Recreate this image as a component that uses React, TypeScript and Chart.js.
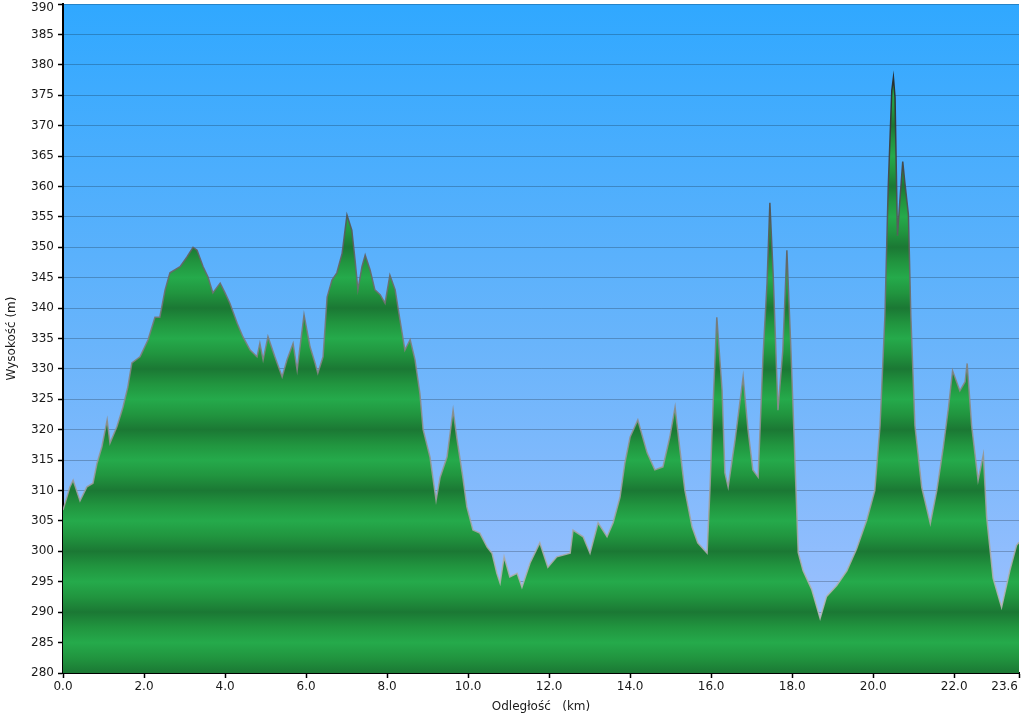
import React, { useEffect, useRef } from 'react';
import { Chart, registerables } from 'chart.js';

Chart.register(...registerables);

// Distance along the route (km)
const distanceKm = [
  0.0, 0.1, 0.17, 0.25, 0.42, 0.59, 0.74, 0.84, 0.96, 1.09, 1.16, 1.33, 1.48, 1.6, 1.7, 1.9,
  2.1, 2.27, 2.39, 2.52, 2.64, 2.89, 3.06, 3.21, 3.31, 3.46, 3.58, 3.7, 3.88, 4.0, 4.12, 4.3,
  4.44, 4.62, 4.79, 4.86, 4.94, 5.06, 5.23, 5.41, 5.53, 5.68, 5.78, 5.95, 6.1, 6.22, 6.29, 6.42,
  6.52, 6.64, 6.76, 6.89, 7.01, 7.13, 7.21, 7.28, 7.38, 7.46, 7.58, 7.7, 7.83, 7.95, 8.07, 8.2,
  8.32, 8.44, 8.57, 8.69, 8.81, 8.89, 9.06, 9.21, 9.31, 9.48, 9.63, 9.73, 9.87, 9.97, 10.12, 10.29,
  10.47, 10.59, 10.71, 10.79, 10.89, 11.03, 11.21, 11.33, 11.53, 11.77, 11.97, 12.19, 12.52, 12.59, 12.84, 13.01,
  13.21, 13.43, 13.58, 13.75, 13.87, 14.0, 14.19, 14.42, 14.61, 14.81, 14.98, 15.11, 15.23, 15.35, 15.53, 15.67,
  15.9, 15.97, 16.05, 16.14, 16.27, 16.34, 16.42, 16.59, 16.79, 16.91, 17.03, 17.16, 17.28, 17.38, 17.45, 17.53,
  17.65, 17.77, 17.87, 17.97, 18.07, 18.15, 18.27, 18.48, 18.69, 18.85, 19.1, 19.35, 19.59, 19.84, 20.04, 20.17,
  20.29, 20.37, 20.46, 20.5, 20.54, 20.6, 20.66, 20.73, 20.78, 20.87, 20.93, 21.03, 21.2, 21.41, 21.57, 21.73,
  21.86, 21.96, 22.14, 22.27, 22.32, 22.43, 22.59, 22.72, 22.8, 22.96, 23.17, 23.38, 23.54, 23.6,
];

// Elevation (m)
const elevationM = [
  306.8, 309.0, 310.6, 311.7, 308.3, 310.6, 311.2, 314.5, 317.2, 321.6, 317.8, 320.5, 323.7, 327.0, 331.0, 332.0,
  334.8, 338.5, 338.5, 343.0, 345.8, 346.8, 348.4, 350.0, 349.5, 346.8, 345.1, 342.5, 344.1, 342.5, 340.8, 337.5,
  335.3, 333.1, 332.0, 334.2, 331.5, 335.3, 332.0, 328.7, 331.5, 334.2, 329.8, 338.9, 333.6, 331.0, 329.3, 332.0,
  341.8, 344.6, 345.8, 349.0, 355.3, 352.8, 347.9, 343.0, 346.8, 348.7, 346.3, 343.0, 342.2, 340.8, 345.4, 343.0,
  338.0, 333.1, 334.8, 331.5, 326.0, 320.0, 315.5, 308.4, 312.2, 315.5, 323.2, 318.3, 312.2, 307.3, 303.5, 303.0,
  300.7, 299.7, 296.4, 294.8, 299.1, 295.8, 296.4, 294.1, 298.1, 301.4, 297.4, 299.1, 299.7, 303.5, 302.4, 299.7,
  304.7, 302.4, 304.7, 308.9, 314.5, 318.8, 321.6, 316.2, 313.4, 313.9, 318.8, 323.7, 316.7, 310.1, 304.0, 301.4,
  299.7, 310.1, 324.4, 338.5, 326.5, 312.9, 310.6, 318.3, 328.7, 320.0, 313.4, 312.2, 332.0, 344.1, 357.3, 345.8,
  323.2, 333.1, 349.5, 333.1, 314.7, 299.8, 296.8, 293.8, 289.0, 292.6, 294.4, 296.8, 300.4, 305.1, 310.0, 320.7,
  338.7, 359.6, 375.8, 377.9, 374.6, 351.9, 357.8, 364.1, 360.8, 355.4, 338.7, 320.7, 310.5, 304.6, 310.0, 317.1,
  323.7, 329.7, 326.4, 327.9, 330.9, 320.7, 311.7, 315.9, 305.7, 295.6, 290.8, 297.0, 301.0, 301.5,
];

const xTickValues = [0, 2, 4, 6, 8, 10, 12, 14, 16, 18, 20, 22, 23.6];
const yMin = 280;
const yMax = 390;
const yStep = 5;
const xTitle = 'Odległość   (km)';
const yTitle = 'Wysokość (m)';

const FONT = "'DejaVu Sans', Verdana, sans-serif";
const TEXT_COLOR = '#1a1a1a';

function greenFill(ctx: any) {
  const chart = ctx.chart;
  const area = chart.chartArea;
  if (!area) return '#20a044';
  const g = chart.ctx.createLinearGradient(0, area.bottom, 0, area.top);
  const span = yMax - yMin;
  for (let v = yMin; v <= yMax; v += 2.5) {
    const t = (v - yMin) / span;
    const m = ((v % 10) + 10) % 10;
    let c;
    if (m === 0) c = '#1b7834';
    else if (m === 5) c = '#25aa4b';
    else c = '#21953f';
    g.addColorStop(Math.min(1, t), c);
  }
  return g;
}

function outline(ctx: any) {
  const chart = ctx.chart;
  const area = chart.chartArea;
  if (!area) return '#777';
  const g = chart.ctx.createLinearGradient(0, area.bottom, 0, area.top);
  g.addColorStop(0, 'rgba(195,195,195,0.9)');
  g.addColorStop(0.5, 'rgba(125,125,125,0.9)');
  g.addColorStop(1, 'rgba(15,15,15,0.95)');
  return g;
}

const skyPlugin = {
  id: 'skyBackground',
  beforeDraw(chart: any) {
    const { ctx, chartArea: a } = chart;
    if (!a) return;
    const g = ctx.createLinearGradient(0, a.top, 0, a.bottom);
    g.addColorStop(0, '#30a8ff');
    g.addColorStop(0.5, '#68b4fb');
    g.addColorStop(1, '#a6c2fe');
    ctx.save();
    ctx.fillStyle = g;
    ctx.fillRect(a.left, a.top, a.right - a.left, a.bottom - a.top);
    ctx.restore();
  },
};

const tickLabelPlugin = {
  id: 'tickLabels',
  afterDraw(chart: any) {
    const { ctx } = chart;
    const xs = chart.scales.x;
    const ys = chart.scales.y;
    ctx.save();
    ctx.font = `12px ${FONT}`;
    ctx.fillStyle = TEXT_COLOR;
    ctx.textBaseline = 'top';
    xTickValues.forEach((v, i) => {
      const px = xs.getPixelForValue(v);
      const last = i === xTickValues.length - 1;
      ctx.textAlign = last ? 'right' : 'center';
      ctx.fillText(v.toFixed(1), last ? px - 1 : px, xs.top + 8);
    });
    ctx.textBaseline = 'middle';
    ctx.textAlign = 'right';
    for (let v = yMin; v <= yMax; v += yStep) {
      const py = Math.max(ys.getPixelForValue(v), 8);
      ctx.fillText(String(v), ys.right - 9, py);
    }
    ctx.restore();
  },
};

export default function App() {
  const ref = useRef<HTMLCanvasElement | null>(null);

  useEffect(() => {
    if (!ref.current) return;
    const points = distanceKm.map((d, i) => ({ x: d, y: elevationM[i] }));
    const chart = new Chart(ref.current, {
      type: 'line',
      data: {
        datasets: [
          {
            label: yTitle,
            data: points,
            fill: 'start',
            backgroundColor: greenFill,
            borderColor: outline,
            borderWidth: 1.5,
            pointRadius: 0,
            tension: 0,
          },
        ],
      },
      options: {
        responsive: false,
        animation: false,
        layout: { padding: { top: 4, right: 5, left: 0, bottom: 0 } },
        plugins: { legend: { display: false }, tooltip: { enabled: false } },
        scales: {
          x: {
            type: 'linear',
            min: 0,
            max: 23.6,
            z: 1,
            afterBuildTicks: (scale: any) => {
              scale.ticks = xTickValues.map((v) => ({ value: v }));
            },
            afterFit: (scale: any) => {
              scale.height = 46;
              scale.paddingLeft = 0;
              scale.paddingRight = 0;
            },
            ticks: { display: false },
            grid: {
              drawOnChartArea: false,
              drawTicks: true,
              tickLength: 5,
              tickColor: '#000',
              tickWidth: 1.5,
            },
            border: { display: true, color: '#000', width: 2 },
            title: {
              display: true,
              text: xTitle,
              color: TEXT_COLOR,
              font: { family: FONT, size: 12 },
              padding: { top: 0, bottom: 5 },
            },
          },
          y: {
            type: 'linear',
            min: yMin,
            max: yMax,
            z: 1,
            afterFit: (scale: any) => {
              scale.width = 63;
              scale.paddingTop = 0;
              scale.paddingBottom = 0;
            },
            ticks: { stepSize: yStep, display: false },
            grid: {
              color: 'rgba(0,0,0,0.22)',
              lineWidth: 1,
              drawTicks: true,
              tickLength: 5,
              tickColor: '#000',
              tickWidth: 1.5,
            },
            border: { display: true, color: '#000', width: 2 },
            title: {
              display: true,
              text: yTitle,
              color: TEXT_COLOR,
              font: { family: FONT, size: 12 },
              padding: { top: 5, bottom: 0 },
            },
          },
        },
      },
      plugins: [skyPlugin, tickLabelPlugin],
    } as any);
    return () => chart.destroy();
  }, []);

  return (
    <div style={{ position: 'absolute', left: 0, top: 0, width: 1024, height: 719, background: '#fff' }}>
      <canvas ref={ref} width={1024} height={719} />
    </div>
  );
}
